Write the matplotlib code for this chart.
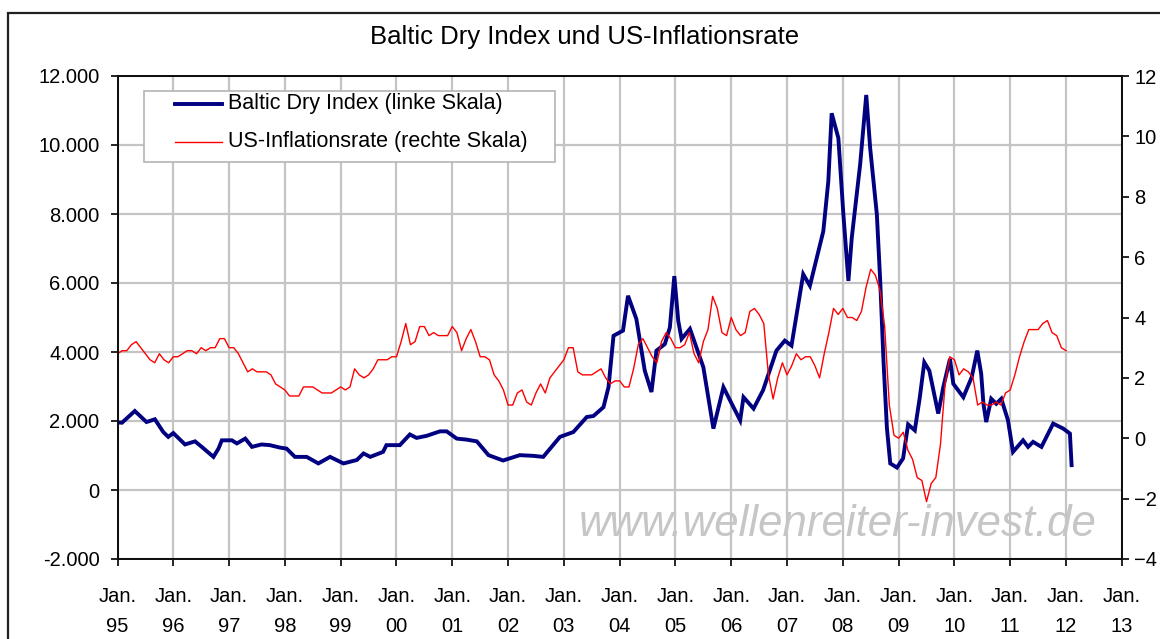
import matplotlib
matplotlib.use("Agg")
import matplotlib.pyplot as plt
from matplotlib.patches import Rectangle
from matplotlib.lines import Line2D
from matplotlib.ticker import FuncFormatter

# ---------------- data ----------------
# Baltic Dry Index (left axis), decimal year / index points
bdi_t = [1995.00, 1995.08, 1995.31, 1995.52, 1995.67, 1995.82, 1995.91, 1996.00, 1996.21,
         1996.39, 1996.51, 1996.72, 1996.81, 1996.87, 1997.05, 1997.14, 1997.29, 1997.41,
         1997.58, 1997.73, 1997.91, 1998.03, 1998.18, 1998.39, 1998.60, 1998.81, 1999.05,
         1999.29, 1999.41, 1999.53, 1999.76, 1999.82, 2000.06, 2000.24, 2000.36, 2000.54,
         2000.78, 2000.90, 2001.08, 2001.26, 2001.44, 2001.65, 2001.91, 2002.21, 2002.45,
         2002.63, 2002.93, 2003.17, 2003.41, 2003.53, 2003.71, 2003.80, 2003.89, 2004.06,
         2004.15, 2004.30, 2004.45, 2004.57, 2004.66, 2004.81, 2004.90, 2004.98, 2005.05,
         2005.11, 2005.26, 2005.50, 2005.68, 2005.86, 2006.04, 2006.16, 2006.22, 2006.40,
         2006.57, 2006.81, 2006.96, 2007.08, 2007.29, 2007.41, 2007.65, 2007.74, 2007.80,
         2007.92, 2008.01, 2008.10, 2008.16, 2008.31, 2008.42, 2008.49, 2008.61, 2008.67,
         2008.73, 2008.79, 2008.85, 2008.97, 2009.08, 2009.17, 2009.29, 2009.38, 2009.46,
         2009.55, 2009.71, 2009.80, 2009.92, 2009.98, 2010.16, 2010.31, 2010.41, 2010.48,
         2010.52, 2010.57, 2010.66, 2010.75, 2010.84, 2010.96, 2011.05, 2011.23, 2011.32,
         2011.41, 2011.56, 2011.77, 2011.95, 2012.07, 2012.10]
bdi_v = [1960, 1950, 2290, 1970, 2050, 1680, 1540, 1650, 1320,
         1410, 1250, 960, 1200, 1440, 1440, 1350, 1490, 1250,
         1320, 1300, 1230, 1200, 960, 960, 770, 960, 770,
         870, 1060, 960, 1105, 1300, 1300, 1610, 1510, 1570,
         1700, 1700, 1490, 1460, 1410, 1010, 855, 1010, 990,
         960, 1540, 1680, 2115, 2145, 2400, 2980, 4470, 4620,
         5630, 4955, 3460, 2840, 4040, 4230, 4710, 6200, 4905,
         4380, 4670, 3560, 1780, 2980, 2400, 2020, 2690, 2360,
         2890, 4040, 4330, 4185, 6255, 5920, 7500, 8950, 10920,
         10200, 7985, 6060, 7310, 9430, 11450, 9910, 7985, 6060,
         3700, 1800, 770, 650, 915, 1900, 1730, 2690, 3700,
         3460, 2215, 2980, 3800, 3080, 2690, 3270, 4040, 3370,
         2500, 1970, 2645, 2500, 2645, 2020, 1105, 1440, 1250,
         1395, 1250, 1925, 1780, 1635, 720]

# US inflation rate (right axis), monthly YoY in %, Jan 1995 .. Jan 2012
cpi_start_year = 1995
cpi_v = [2.8, 2.9, 2.9, 3.1, 3.2, 3.0, 2.8, 2.6, 2.5, 2.8, 2.6, 2.5,   # 1995
         2.7, 2.7, 2.8, 2.9, 2.9, 2.8, 3.0, 2.9, 3.0, 3.0, 3.3, 3.3,   # 1996
         3.0, 3.0, 2.8, 2.5, 2.2, 2.3, 2.2, 2.2, 2.2, 2.1, 1.8, 1.7,   # 1997
         1.6, 1.4, 1.4, 1.4, 1.7, 1.7, 1.7, 1.6, 1.5, 1.5, 1.5, 1.6,   # 1998
         1.7, 1.6, 1.7, 2.3, 2.1, 2.0, 2.1, 2.3, 2.6, 2.6, 2.6, 2.7,   # 1999
         2.7, 3.2, 3.8, 3.1, 3.2, 3.7, 3.7, 3.4, 3.5, 3.4, 3.4, 3.4,   # 2000
         3.7, 3.5, 2.9, 3.3, 3.6, 3.2, 2.7, 2.7, 2.6, 2.1, 1.9, 1.6,   # 2001
         1.1, 1.1, 1.5, 1.6, 1.2, 1.1, 1.5, 1.8, 1.5, 2.0, 2.2, 2.4,   # 2002
         2.6, 3.0, 3.0, 2.2, 2.1, 2.1, 2.1, 2.2, 2.3, 2.0, 1.8, 1.9,   # 2003
         1.9, 1.7, 1.7, 2.3, 3.1, 3.3, 3.0, 2.7, 2.5, 3.2, 3.5, 3.3,   # 2004
         3.0, 3.0, 3.1, 3.5, 2.8, 2.5, 3.2, 3.6, 4.7, 4.3, 3.5, 3.4,   # 2005
         4.0, 3.6, 3.4, 3.5, 4.2, 4.3, 4.1, 3.8, 2.1, 1.3, 2.0, 2.5,   # 2006
         2.1, 2.4, 2.8, 2.6, 2.7, 2.7, 2.4, 2.0, 2.8, 3.5, 4.3, 4.1,   # 2007
         4.3, 4.0, 4.0, 3.9, 4.2, 5.0, 5.6, 5.4, 4.9, 3.7, 1.1, 0.1,   # 2008
         0.0, 0.2, -0.4, -0.7, -1.3, -1.4, -2.1, -1.5, -1.3, -0.2, 1.8, 2.7,  # 2009
         2.6, 2.1, 2.3, 2.2, 2.0, 1.1, 1.2, 1.1, 1.1, 1.2, 1.1, 1.5,   # 2010
         1.6, 2.1, 2.7, 3.2, 3.6, 3.6, 3.6, 3.8, 3.9, 3.5, 3.4, 3.0,   # 2011
         2.9]                                                          # 2012
cpi_t = [cpi_start_year + i / 12.0 for i in range(len(cpi_v))]

years = list(range(1995, 2014))
xtick_labels = ["Jan.\n%02d" % (y % 100) for y in years]
left_ticks = [-2000, 0, 2000, 4000, 6000, 8000, 10000, 12000]
right_ticks = [-4, -2, 0, 2, 4, 6, 8, 10, 12]

title = "Baltic Dry Index und US-Inflationsrate"
label_bdi = "Baltic Dry Index (linke Skala)"
label_cpi = "US-Inflationsrate (rechte Skala)"
watermark = "www.wellenreiter-invest.de"

# ---------------- plot ----------------
plt.rcParams['font.family'] = ['Liberation Sans', 'DejaVu Sans']
W, H = 1160, 639
fig = plt.figure(figsize=(W / 100, H / 100), dpi=100)
fig.patch.set_facecolor("white")

def fx(px):
    return px / W

def fy(py):
    return 1 - py / H

# outer frame (cropped at right/bottom)
fig.patches.append(Rectangle((fx(8), -0.05), 1.1, fy(13) + 0.05,
                             transform=fig.transFigure, fill=False,
                             edgecolor="#202020", linewidth=1.6))

L, R, T, B = 117.5, 1121.8, 76, 559
ax = fig.add_axes([fx(L), fy(B), (R - L) / W, (B - T) / H])
ax.set_xlim(1995, 2013)
ax.set_ylim(-2000, 12000)
ax.set_xticks(years)
ax.set_xticklabels(xtick_labels, fontsize=14.5, linespacing=1.72)
ax.set_yticks(left_ticks)
ax.yaxis.set_major_formatter(FuncFormatter(
    lambda v, p: "0" if v == 0 else "{:,.0f}".format(v).replace(",", ".")))
ax.grid(True, color="#c4c4c4", linewidth=1.6)
ax.set_axisbelow(True)
ax.tick_params(axis="y", labelsize=14.5, direction="out", length=5, width=1.2, pad=8)
ax.tick_params(axis="x", direction="out", length=5, width=1.2, pad=15)
for s in ax.spines.values():
    s.set_linewidth(1.4)
    s.set_color("#101010")

ln1, = ax.plot(bdi_t, bdi_v, color="#000080", linewidth=2.8,
               solid_joinstyle="miter", label=label_bdi)

ax2 = ax.twinx()
ax2.set_ylim(-4, 12)
ax2.set_yticks(right_ticks)
ax2.tick_params(axis="y", labelsize=14.5, direction="out", length=5, width=1.2, pad=4)
for s in ax2.spines.values():
    s.set_linewidth(1.4)
    s.set_color("#101010")
ln2, = ax2.plot(cpi_t, cpi_v, color="#ff0000", linewidth=1.0, label=label_cpi)

# legend box (drawn in figure pixels like the original)
fig.patches.append(Rectangle((fx(144), fy(162)), (555 - 144) / W, (162 - 91) / H,
                             transform=fig.transFigure, facecolor="white",
                             edgecolor="#b4b4b4", linewidth=1.2, zorder=5))
for (yy, ln) in ((104, ln1), (142, ln2)):
    fig.lines.append(Line2D([fx(175), fx(222)], [fy(yy), fy(yy)],
                            transform=fig.transFigure, color=ln.get_color(),
                            linewidth=ln.get_linewidth(), zorder=6))
fig.text(fx(228), fy(104), label_bdi, ha="left", va="center", fontsize=15.5, zorder=6)
fig.text(fx(228), fy(142), label_cpi, ha="left", va="center", fontsize=15.5, zorder=6)

fig.text(fx(585), fy(37), title, ha="center", va="center", fontsize=18.5)
fig.text(fx(838), fy(525), watermark, ha="center", va="center",
         fontsize=31.5, style="italic", color="#c6c6c6")

fig.savefig("out.png", dpi=100, facecolor="white")
